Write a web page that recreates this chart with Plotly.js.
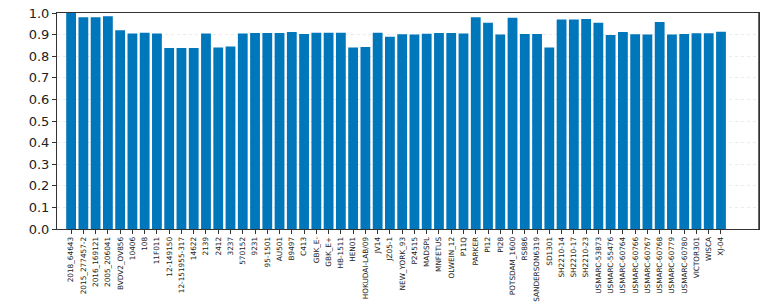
<!DOCTYPE html>
<html><head><meta charset="utf-8">
<script src="https://cdn.plot.ly/plotly-3.0.1.min.js"></script>
<style>html,body{margin:0;padding:0;background:#fff;overflow:hidden}#c{width:770px;height:303px}</style>
</head><body><div id="c"></div>
<script>
const categories = ["2018_64643","2015_277457-2","2016_169121","2005_206041","BVDV2_OV856","10406","108","11F011","12-149150","12-151955-317","14622","2139","2412","3237","570152","9231","95-1501","AU501","B9497","C413","GBK_E-","GBK_E+","HB-1511","HEN01","HOKUDAI-LAB/09","JV14","JZ05-1","NEW_YORK_93","P24515","MADSPL","MNFETUS","OLWEIN_12","P11Q","PARKER","PI12","PI28","POTSDAM_1600","RS886","SANDERSON6319","SD1301","SH2210-14","SH2210-17","SH2210-23","USMARC-53873","USMARC-55476","USMARC-60764","USMARC-60766","USMARC-60767","USMARC-60768","USMARC-60779","USMARC-60780","VICTOR301","WISCA","XJ-04"];
const values = [1.0,0.98,0.98,0.985,0.92,0.905,0.908,0.905,0.838,0.838,0.838,0.905,0.84,0.845,0.905,0.907,0.907,0.907,0.912,0.903,0.908,0.908,0.908,0.84,0.843,0.908,0.89,0.902,0.9,0.904,0.907,0.907,0.905,0.98,0.955,0.9,0.978,0.903,0.903,0.84,0.97,0.97,0.972,0.955,0.898,0.912,0.902,0.9,0.958,0.9,0.903,0.906,0.906,0.913];
const yTicks = [0,0.1,0.2,0.3,0.4,0.5,0.6,0.7,0.8,0.9,1.0];
const idx = categories.map((_, i) => i);
Plotly.newPlot('c', [{
  type: 'bar', x: idx, y: values, width: 0.8,
  marker: {color: '#0077bb', line: {width: 0}},
  hoverinfo: 'skip'
}], {
  width: 770, height: 303,
  margin: {l: 57, r: 11, t: 13, b: 74},
  paper_bgcolor: '#fff', plot_bgcolor: '#fff',
  font: {family: 'DejaVu Sans', color: '#222'},
  showlegend: false,
  xaxis: {
    range: [-1.15, 56.1], tickmode: 'array', tickvals: idx, ticktext: categories,
    tickangle: -90, tickfont: {size: 7.3, family: 'DejaVu Sans', color: '#222'},
    ticks: 'outside', ticklen: 4, tickcolor: '#333',
    showgrid: false, zeroline: false,
    showline: true, linecolor: '#333', linewidth: 1, mirror: true
  },
  yaxis: {
    range: [0, 1.0], tickmode: 'array', tickvals: yTicks,
    ticktext: yTicks.map(v => v.toFixed(1)),
    tickfont: {size: 13, family: 'DejaVu Sans', color: '#222'},
    ticks: 'outside', ticklen: 4, tickcolor: '#333',
    showgrid: true, gridcolor: '#ebebeb', griddash: 'dot', gridwidth: 1,
    zeroline: false,
    showline: true, linecolor: '#333', linewidth: 1, mirror: true
  },
  shapes: [{type: 'line', xref: 'paper', yref: 'paper', x0: 1, x1: 1, y0: 0, y1: 1,
            line: {color: '#333', width: 1.5}, layer: 'above'}]
}, {staticPlot: true});
</script></body></html>
